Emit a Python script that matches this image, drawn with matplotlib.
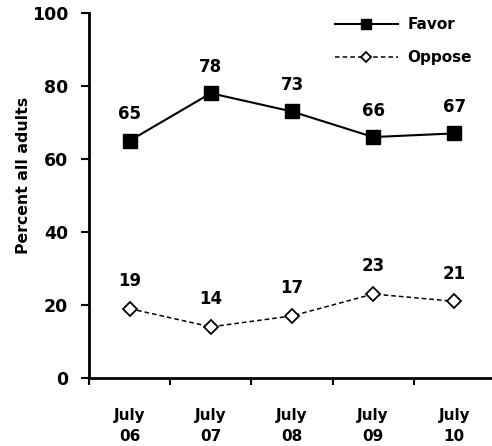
import matplotlib
matplotlib.use("Agg")
import matplotlib.pyplot as plt
import numpy as np

categories = ["July\n06", "July\n07", "July\n08", "July\n09", "July\n10"]
favor = [65, 78, 73, 66, 67]
oppose = [19, 14, 17, 23, 21]
y_ticks = [0, 20, 40, 60, 80, 100]

plt.rcParams['font.family'] = ['DejaVu Sans']
plt.rcParams['font.weight'] = 'bold'

fig = plt.figure(figsize=(4.92, 4.46), dpi=100)
ax = fig.add_axes([0.181, 0.1525, 0.825, 0.8185])

x = np.arange(len(categories))
ax.plot(x, favor, color='black', lw=1.5, marker='s', markersize=10,
        markerfacecolor='black', label='Favor')
ax.plot(x, oppose, color='black', lw=1.1, ls=(0, (3, 2)), marker='D', markersize=7.5,
        markerfacecolor='white', markeredgewidth=1.3, label='Oppose')

for xi, v in zip(x, favor):
    ax.annotate(str(v), (xi, v), xytext=(0, 19), textcoords='offset points',
                ha='center', va='center', fontsize=12, fontweight='bold')
for xi, v in zip(x, oppose):
    ax.annotate(str(v), (xi, v), xytext=(0, 20), textcoords='offset points',
                ha='center', va='center', fontsize=12, fontweight='bold')

ax.set_xlim(-0.5, 4.5)
ax.set_ylim(0, 100)
ax.set_yticks(y_ticks)
ax.set_yticklabels([str(t) for t in y_ticks], fontsize=12.5, fontweight='bold')
ax.tick_params(axis='y', direction='out', length=6, width=1.5, pad=9)

ax.set_xticks(np.arange(-0.5, 4.6, 1.0))
ax.set_xticklabels([])
ax.tick_params(axis='x', direction='out', length=5, width=1.5)
for xi, lab in zip(x, categories):
    ax.text(xi, -8.3, lab, ha='center', va='top', fontsize=11, fontweight='bold',
            linespacing=1.45, transform=ax.transData)

ax.spines['top'].set_visible(False)
ax.spines['right'].set_visible(False)
ax.spines['left'].set_linewidth(2)
ax.spines['bottom'].set_linewidth(2)

ax.set_ylabel('Percent all adults', fontsize=11.3, fontweight='bold')
ax.yaxis.set_label_coords(-0.143, 0.556)

fig.legend(*ax.get_legend_handles_labels(), loc='upper left',
           bbox_to_anchor=(0.681, 0.961), bbox_transform=fig.transFigure,
           frameon=False, borderaxespad=0, borderpad=0,
           handlelength=4.1, labelspacing=1.15, handletextpad=0.65,
           markerscale=0.72, prop={'weight': 'bold', 'size': 11})

fig.savefig('out.png', dpi=100)
